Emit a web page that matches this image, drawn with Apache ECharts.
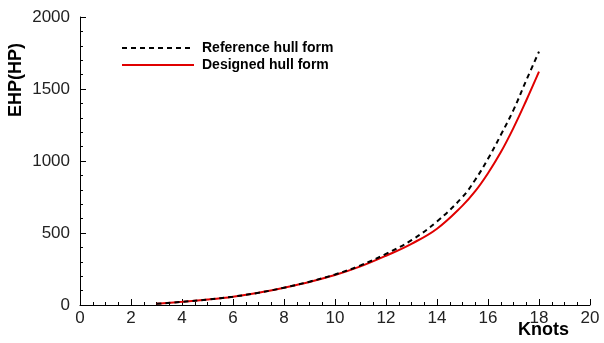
<!DOCTYPE html>
<html>
<head>
<meta charset="utf-8">
<script src="https://cdn.jsdelivr.net/npm/echarts@6/dist/echarts.min.js"></script>
<style>html,body{margin:0;padding:0;background:#fff}#c{width:604px;height:343px}</style>
</head>
<body>
<div id="c"></div>
<script>
var knots = [3, 4, 5, 6, 7, 8, 9, 10, 11, 12, 13, 14, 15, 15.5, 16, 16.5, 17, 17.5, 18];
var referenceEHP = [8, 22, 38, 58, 85, 120, 162, 212, 275, 355, 450, 580, 750, 870, 1015, 1180, 1355, 1560, 1760];
var designedEHP = [8, 22, 38, 58, 85, 120, 160, 208, 268, 342, 425, 530, 690, 790, 915, 1060, 1230, 1420, 1620];
var xTicks = [0, 2, 4, 6, 8, 10, 12, 14, 16, 18, 20];
var yTicks = [0, 500, 1000, 1500, 2000];

function pairs(xs, ys) { return xs.map(function (x, i) { return [x, ys[i]]; }); }

var chart = echarts.init(document.getElementById('c'));
var labelStyle = { color: '#222', fontSize: 17, fontFamily: 'Liberation Sans', formatter: function (v) { return String(v); } };
chart.setOption({
  animation: false,
  grid: { left: 80, top: 17, right: 14, bottom: 38, containLabel: false, outerBoundsMode: 'none' },
  legend: {
    orient: 'vertical', left: 116, top: 36,
    itemWidth: 72, itemHeight: 14, itemGap: 3,
    itemStyle: { opacity: 0 },
    textStyle: { fontFamily: 'Liberation Sans', fontWeight: 'bold', fontSize: 14, color: '#000', padding: [0, 0, 0, 3] },
    data: ['Reference hull form', 'Designed hull form']
  },
  xAxis: {
    type: 'value', min: xTicks[0], max: xTicks[xTicks.length - 1], interval: 2,
    axisLine: { show: true, lineStyle: { color: '#000', width: 1 } },
    axisTick: { show: true, inside: true, length: 6, lineStyle: { color: '#000' } },
    minorTick: { show: true, splitNumber: 4, length: 3, lineStyle: { color: '#000' } },
    splitLine: { show: false },
    axisLabel: Object.assign({ margin: 5 }, labelStyle)
  },
  yAxis: {
    type: 'value', min: yTicks[0], max: yTicks[yTicks.length - 1], interval: 500,
    axisLine: { show: true, lineStyle: { color: '#000', width: 1 } },
    axisTick: { show: true, inside: true, length: 6, lineStyle: { color: '#000' } },
    minorTick: { show: true, splitNumber: 5, length: 3, lineStyle: { color: '#000' } },
    splitLine: { show: false },
    axisLabel: Object.assign({ margin: 10 }, labelStyle)
  },
  graphic: [{
    type: 'text', x: 16, y: 80, rotation: Math.PI / 2,
    style: { text: 'EHP(HP)', align: 'center', verticalAlign: 'middle', fontFamily: 'Liberation Sans', fontWeight: 'bold', fontSize: 18, fill: '#000' }
  }, {
    type: 'text', x: 569, y: 330,
    style: { text: 'Knots', align: 'right', verticalAlign: 'middle', fontFamily: 'Liberation Sans', fontWeight: 'bold', fontSize: 18, fill: '#000' }
  }],
  series: [{
    name: 'Reference hull form', type: 'line', smooth: 0.4, symbol: 'none',
    data: pairs(knots, referenceEHP),
    lineStyle: { color: '#000', width: 2, type: [5, 4] }, itemStyle: { color: '#000' }, z: 3
  }, {
    name: 'Designed hull form', type: 'line', smooth: 0.4, symbol: 'none',
    data: pairs(knots, designedEHP),
    lineStyle: { color: '#e00000', width: 2 }, itemStyle: { color: '#e00000' }, z: 2
  }]
});
</script>
</body>
</html>
